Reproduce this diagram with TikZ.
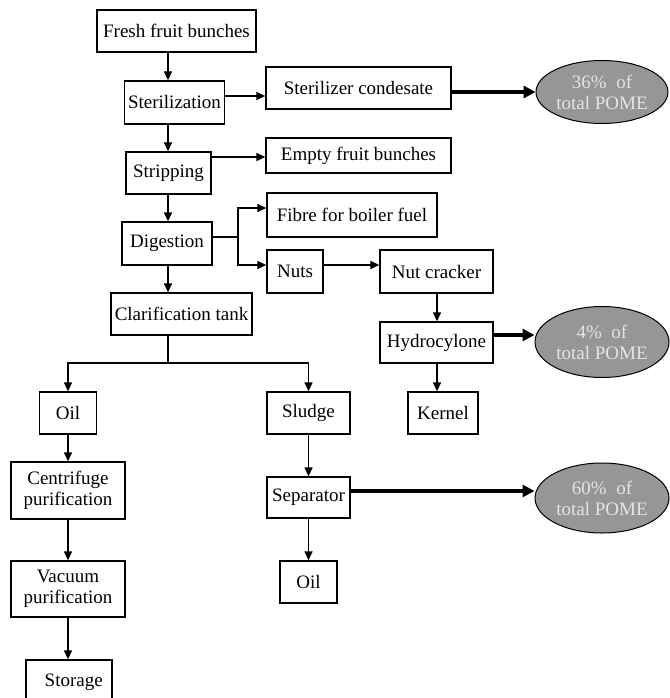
\documentclass[tikz,border=0pt]{standalone}
\usepackage{fontspec}
\setmainfont{Liberation Serif}
\usetikzlibrary{arrows.meta, shapes.geometric}
\definecolor{pomegray}{RGB}{150,150,150}
\definecolor{pometext}{RGB}{228,228,228}

\begin{document}
\begin{tikzpicture}[x=1pt, y=-1pt,
    font=\fontsize{19}{21}\selectfont,
    box/.style={draw, line width=1.3pt, inner sep=0pt},
    pome/.style={draw, ellipse, line width=1pt, fill=pomegray, text=pometext, inner sep=0pt, align=center},
    arr/.style={line width=1.3pt, -{Triangle[length=9pt, width=8pt]}},
    fatarr/.style={line width=3.6pt, -{Triangle[length=12pt, width=12pt]}}]
  \useasboundingbox (0,0) rectangle (669,698);

  % Main line
  \node[box, minimum width=159, minimum height=42] (ffb) at (176.5, 31) {Fresh fruit bunches};
  \node[box, minimum width=100, minimum height=43] (ster) at (174.5, 102.5) {Sterilization};
  \node[box, minimum width=85, minimum height=42] (strip) at (168.5, 173) {Stripping};
  \node[box, minimum width=90, minimum height=43] (dig) at (167, 243.5) {Digestion};
  \node[box, minimum width=141, minimum height=42] (clar) at (181.5, 314) {Clarification tank};

  % By-products
  \node[box, minimum width=185, minimum height=42] (cond) at (358.5, 88) {Sterilizer condesate};
  \node[box, minimum width=185, minimum height=35] (efb) at (358.5, 155.5) {Empty fruit bunches};
  \node[box, minimum width=170, minimum height=44] (fibre) at (352, 215) {Fibre for boiler fuel};
  \node[box, minimum width=56, minimum height=43] (nuts) at (295, 271.5) {Nuts};
  \node[box, minimum width=113, minimum height=43] (crack) at (436.5, 271.5) {Nut cracker};
  \node[box, minimum width=113, minimum height=41] (hydro) at (436.5, 342.5) {Hydrocylone};
  \node[box, minimum width=70, minimum height=42] (kernel) at (443, 413) {Kernel};

  % Oil and sludge
  \node[box, minimum width=57, minimum height=42] (oil1) at (68, 413) {Oil};
  \node[box, minimum width=114, minimum height=57, align=center] (cent) at (68, 490.5) {Centrifuge\\purification};
  \node[box, minimum width=114, minimum height=56, align=center] (vac) at (68, 589) {Vacuum\\purification};
  \node[box, minimum width=86, minimum height=45] (stor) at (69, 682.5) {\ \ Storage};
  \node[box, minimum width=83, minimum height=42] (sludge) at (308.5, 413) {Sludge};
  \node[box, minimum width=83, minimum height=41] (sep) at (308.5, 497.5) {Separator};
  \node[box, minimum width=57, minimum height=42] (oil2) at (308.5, 582) {Oil};

  % POME
  \node[pome, minimum width=132, minimum height=63] (p36) at (602, 92) {36\%\ \ of\\total POME};
  \node[pome, minimum width=134, minimum height=71] (p4) at (602, 342) {4\%\ \ of\\total POME};
  \node[pome, minimum width=134, minimum height=70] (p60) at (602, 498) {60\%\ \ of\\total POME};

  \coordinate (col) at (168, 0);
  \coordinate (br) at (238, 237);
  \coordinate (sp) at (168, 363);

  \draw[arr] (ffb.south -| col) -- (ster.north -| col);
  \draw[arr] (ster.south -| col) -- (strip.north -| col);
  \draw[arr] (strip.south -| col) -- (dig.north -| col);
  \draw[arr] (dig.south -| col) -- (clar.north -| col);

  \draw[arr] (ster.east |- 0,96) -- (cond.west |- 0,96);
  \draw[fatarr] (cond.east |- p36) -- (p36.west);
  \draw[arr] (strip.east |- 0,157) -- (efb.west |- 0,157);

  \draw[line width=1.3pt] (dig.east |- br) -- (br);
  \draw[arr] (br) |- (fibre.west |- 0,208);
  \draw[arr] (br) |- (nuts.west |- 0,265);
  \draw[arr] (nuts.east |- 0,265) -- (crack.west |- 0,265);
  \draw[arr] (crack.south -| 437,0) -- (hydro.north -| 437,0);
  \draw[fatarr] (hydro.east |- 0,335) -- (p4.west |- 0,335);
  \draw[arr] (hydro.south -| 437,0) -- (kernel.north -| 437,0);

  \draw[line width=1.3pt] (clar.south -| sp) -- (sp);
  \draw[arr] (sp) -| (oil1.north);
  \draw[arr] (sp) -| (sludge.north);

  \draw[arr] (oil1) -- (cent);
  \draw[arr] (cent) -- (vac);
  \draw[arr] (vac.south) -- (stor.north -| vac.south);
  \draw[arr] (sludge) -- (sep);
  \draw[arr] (sep) -- (oil2);
  \draw[fatarr] (sep.east |- 0,491) -- (p60.west |- 0,491);

\end{tikzpicture}
\end{document}
